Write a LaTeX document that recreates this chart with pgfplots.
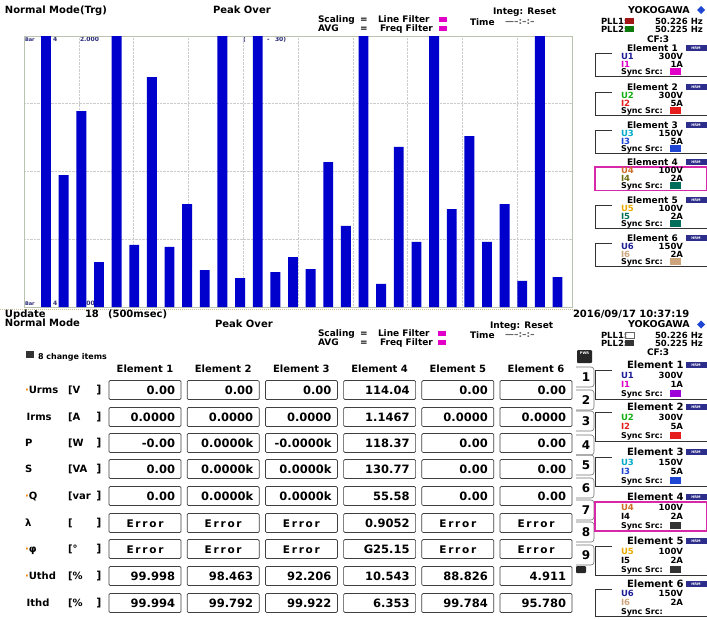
\documentclass[border=0pt]{standalone}
\usepackage{pgfplots}
\pgfplotsset{compat=1.18}
\usepackage{fontspec}
\setmainfont{DejaVu Sans}
\definecolor{barblue}{RGB}{0,0,205}
\definecolor{navy}{RGB}{30,30,150}
\definecolor{mag}{RGB}{225,0,200}
\definecolor{grn}{RGB}{20,175,20}
\definecolor{red1}{RGB}{230,30,30}
\definecolor{cyn}{RGB}{0,170,200}
\definecolor{blu}{RGB}{30,70,210}
\definecolor{brn}{RGB}{205,110,40}
\definecolor{olv}{RGB}{110,110,20}
\definecolor{yel}{RGB}{235,170,0}
\definecolor{tea}{RGB}{0,110,90}
\definecolor{tan1}{RGB}{205,165,125}
\definecolor{selmag}{RGB}{215,40,170}
\definecolor{hrm}{RGB}{45,45,140}
\definecolor{framec}{RGB}{185,195,175}
\definecolor{dotc}{RGB}{205,190,150}
\definecolor{lbl}{RGB}{40,40,120}

\newcommand\fs[1]{\fontsize{#1}{#1}\selectfont\bfseries}
\tikzset{
 t/.style={anchor=base west, inner sep=0pt, outer sep=0pt},
 te/.style={anchor=base east, inner sep=0pt, outer sep=0pt},
 tc/.style={anchor=base, inner sep=0pt, outer sep=0pt},
 bx/.style={draw=black!75, line width=0.7pt, rounded corners=1.2pt},
}
% #1 ty, #2 k, #3 U, #4 I, #5 ucol, #6 icol, #7 boxcol, #8 step, #9 font size
\newcommand\elem[9]{%
 \node[t,font=\fs{#9}] at (627,#1+3.5) {Element #2};
 \fill[hrm] (686,#1-3.2) rectangle (707,#1+3);
 \node[inner sep=0pt,font=\fontsize{3.5}{4}\selectfont\bfseries,text=white] at (696,#1-0.1) {HRM};
 \node[t,font=\fs{8.5},text=#5] at (621,#1+#8+1+3) {U#2};
 \node[te,font=\fs{8.5}] at (683,#1+#8+1+3) {#3};
 \node[t,font=\fs{8.5},text=#6] at (621,#1+2*#8+1+3) {I#2};
 \node[te,font=\fs{8.5}] at (683,#1+2*#8+1+3) {#4};
 \node[t,font=\fs{8}] at (621,#1+3*#8+1+3) {Sync Src:};
 \fill[#7] (670,#1+3*#8+1-3.5) rectangle (681,#1+3*#8+1+3.5);
}
\newcommand\brk[2]{\draw[black!80,line width=0.7pt] (612,#1+5) -- (595,#1+5) -- (595,#1+3*#2+6) -- (707,#1+3*#2+6);}
\newcommand\sel[2]{\draw[selmag,line width=1.2pt] (595,#1+5) rectangle (707,#1+3*#2+6);}
\newcommand\cell[3]{\draw[bx] ({109+78.2*(#1-1)},#2-9.5) rectangle ++(72,19);
 \node[te,font=\fs{11.5}] at ({109+78.2*(#1-1)+66},#2+4.2) {#3};}
\newcommand\ecell[2]{\draw[bx] ({109+78.2*(#1-1)},#2-9.5) rectangle ++(72,19);
 \node[tc,font=\fs{10.5}] at ({109+78.2*(#1-1)+36},#2+4) {E\,r\,r\,o\,r};}
\newcommand\rlab[3]{\node[t,font=\fs{10}] at (25,#1+3.6) {#2};
 \node[t,font=\fs{10}] at (68,#1+3.6) {\lbrack#3};}

\begin{document}
\begin{tikzpicture}
\begin{scope}[x=1pt,y=-1pt]
\useasboundingbox (0,0) rectangle (707,619);
\fill[white] (0,0) rectangle (707,619);
% ---------- top header
\node[t,font=\fs{10}] at (5,13) {Normal Mode(Trg)};
\node[t,font=\fs{10}] at (213,13) {Peak Over};
\node[t,font=\fs{9}] at (318,22) {Scaling};
\node[t,font=\fs{9}] at (360,22) {=};
\node[t,font=\fs{9}] at (318,31) {AVG};
\node[t,font=\fs{9}] at (360,31) {=};
\node[t,font=\fs{9}] at (378,22) {Line Filter};
\node[t,font=\fs{9}] at (380,31) {Freq Filter};
\fill[mag] (439,16.5) rectangle (447,22);
\fill[mag] (439,25.5) rectangle (447,31);
\node[t,font=\fs{9}] at (470,25) {Time};
\node[t,font=\fs{9}] at (493,14) {Integ: Reset};
\node[t,font=\fs{9},text=black!60] at (505,24) {-----:--:--};
\node[t,font=\fs{9.5}] at (628,13) {YOKOGAWA};
\fill[blu] (701,6) -- (705,10) -- (701,14) -- (697,10) -- cycle;
\node[t,font=\fs{8.5}] at (601,24) {PLL1:};
\fill[red1!70!black] (625,18) rectangle (634,24);
\node[t,font=\fs{8.5}] at (655,24) {50.226 Hz};
\node[t,font=\fs{8.5}] at (601,32) {PLL2:};
\fill[grn!70!black] (625,26) rectangle (634,32);
\node[t,font=\fs{8.5}] at (655,32) {50.225 Hz};
\node[t,font=\fs{9}] at (647,42) {CF:3};
% ---------- top element panel
\brk{48}{7.6}\elem{48}{1}{300V}{1A}{navy}{mag}{mag}{7.6}{9}
\brk{87}{7.6}\elem{87}{2}{300V}{5A}{grn}{red1}{red1}{7.6}{9}
\brk{125}{7.6}\elem{125}{3}{150V}{5A}{cyn}{blu}{blu}{7.6}{9}
\sel{162}{7.6}\elem{162}{4}{100V}{2A}{brn}{olv}{tea}{7.6}{9}
\brk{200}{7.6}\elem{200}{5}{100V}{2A}{yel}{tea}{tea}{7.6}{9}
\brk{238}{7.6}\elem{238}{6}{150V}{2A}{navy}{tan1}{tan1}{7.6}{9}
% ---------- chart labels (under bars)
\node[t,font=\fs{5},text=lbl] at (25,41) {Bar};
\node[t,font=\fs{6},text=lbl] at (53,41) {4};
\node[t,font=\fs{6},text=lbl] at (80,41) {2.000};
\node[t,font=\fs{6},text=lbl] at (243,41) {(};
\node[t,font=\fs{6},text=lbl] at (257,41) {1};
\node[t,font=\fs{6},text=lbl] at (267,41) {-};
\node[t,font=\fs{6},text=lbl] at (275,41) {30)};
\node[t,font=\fs{5},text=lbl] at (25,305) {Bar};
\node[t,font=\fs{6},text=lbl] at (53,305) {4};
\node[t,font=\fs{6},text=lbl] at (80,305) {0.000};
% ---------- separator
\draw[dotc,densely dotted,line width=1pt] (0,309.5) -- (575,309.5);
% ---------- lower header
\node[t,font=\fs{10}] at (5,317) {Update};
\node[t,font=\fs{10}] at (85,317) {18};
\node[t,font=\fs{10}] at (108,317) {(500msec)};
\node[t,font=\fs{10}] at (5,326) {Normal Mode};
\node[t,font=\fs{10}] at (215,327) {Peak Over};
\node[t,font=\fs{10}] at (573,317) {2016/09/17 10:37:19};
\node[t,font=\fs{9.5}] at (628,327.5) {YOKOGAWA};
\fill[blu] (701,320.5) -- (705,324.5) -- (701,328.5) -- (697,324.5) -- cycle;
\node[t,font=\fs{9}] at (490,328) {Integ: Reset};
\node[t,font=\fs{9},text=black!60] at (505,337) {-----:--:--};
\node[t,font=\fs{9}] at (318,336) {Scaling};
\node[t,font=\fs{9}] at (360,336) {=};
\node[t,font=\fs{9}] at (318,345) {AVG};
\node[t,font=\fs{9}] at (360,345) {=};
\node[t,font=\fs{9}] at (378,336) {Line Filter};
\node[t,font=\fs{9}] at (380,345) {Freq Filter};
\fill[mag] (438,330.5) rectangle (446,336);
\fill[mag] (438,339.5) rectangle (446,345);
\node[t,font=\fs{9}] at (470,338) {Time};
\node[t,font=\fs{8.5}] at (601,338) {PLL1:};
\draw[black!60] (625,332) rectangle (634,338);
\node[t,font=\fs{8.5}] at (655,338) {50.226 Hz};
\node[t,font=\fs{8.5}] at (601,346) {PLL2:};
\fill[black!80] (625,340) rectangle (634,346);
\node[t,font=\fs{8.5}] at (655,346) {50.225 Hz};
\node[t,font=\fs{9}] at (647,355) {CF:3};
% ---------- table
\fill[black!80] (26,351) rectangle (34,358);
\node[t,font=\fs{8}] at (38,359) {8 change items};
\foreach \k in {1,...,6}{\node[tc,font=\fs{10}] at ({109+78.2*(\k-1)+36},372) {Element \k};}
\rlab{390}{\textcolor{orange}{·}Urms}{V}
\cell{1}{390}{0.00}\cell{2}{390}{0.00}\cell{3}{390}{0.00}\cell{4}{390}{114.04}\cell{5}{390}{0.00}\cell{6}{390}{0.00}
\rlab{417}{\,Irms}{A}
\cell{1}{417}{0.0000}\cell{2}{417}{0.0000}\cell{3}{417}{0.0000}\cell{4}{417}{1.1467}\cell{5}{417}{0.0000}\cell{6}{417}{0.0000}
\rlab{443}{P}{W}
\cell{1}{443}{-0.00}\cell{2}{443}{0.0000k}\cell{3}{443}{-0.0000k}\cell{4}{443}{118.37}\cell{5}{443}{0.00}\cell{6}{443}{0.00}
\rlab{469}{S}{VA}
\cell{1}{469}{0.00}\cell{2}{469}{0.0000k}\cell{3}{469}{0.0000k}\cell{4}{469}{130.77}\cell{5}{469}{0.00}\cell{6}{469}{0.00}
\rlab{496}{\textcolor{orange}{·}Q}{var}
\cell{1}{496}{0.00}\cell{2}{496}{0.0000k}\cell{3}{496}{0.0000k}\cell{4}{496}{55.58}\cell{5}{496}{0.00}\cell{6}{496}{0.00}
\rlab{523}{λ}{ }
\ecell{1}{523}\ecell{2}{523}\ecell{3}{523}\cell{4}{523}{0.9052}\ecell{5}{523}\ecell{6}{523}
\rlab{549}{\textcolor{orange}{·}φ}{°}
\ecell{1}{549}\ecell{2}{549}\ecell{3}{549}\cell{4}{549}{G25.15}\ecell{5}{549}\ecell{6}{549}
\rlab{576}{\textcolor{orange}{·}Uthd}{\%}
\cell{1}{576}{99.998}\cell{2}{576}{98.463}\cell{3}{576}{92.206}\cell{4}{576}{10.543}\cell{5}{576}{88.826}\cell{6}{576}{4.911}
\rlab{603}{\,Ithd}{\%}
\cell{1}{603}{99.994}\cell{2}{603}{99.792}\cell{3}{603}{99.922}\cell{4}{603}{6.353}\cell{5}{603}{99.784}\cell{6}{603}{95.780}
\foreach \yy in {390,417,443,469,496,523,549,576,603}{
 \node[anchor=center,inner sep=0.5pt,text=black,font=\fs{11}] at (99,\yy+0.3) {\rbrack};}
% ---------- tabs
\fill[black!85,rounded corners=1pt] (577,350) rectangle (592,363);
\node[inner sep=0pt,font=\fontsize{3.5}{4}\selectfont\bfseries,text=white] at (584.5,353.5) {PWR};
\foreach \y/\d in {377/1,400/2,421/3,445/4,465/5,488/6,510/7,532/8,555/9}{
 \draw[black!55,line width=0.6pt,rounded corners=3pt] (576,\y-10) -- (594,\y-10) -- (594,\y+10) -- (576,\y+10);
 \node[font=\fs{12},inner sep=0pt] at (586,\y) {\d};}
\fill[black!85,rounded corners=1pt] (576,566) rectangle (586,573);
% ---------- lower element panel
\brk{365}{9.3}\elem{365}{1}{300V}{1A}{navy}{mag}{mag!70!blue}{9.3}{10}
\brk{407}{9.3}\elem{407}{2}{300V}{5A}{grn}{red1}{red1}{9.3}{10}
\brk{452}{9.3}\elem{452}{3}{150V}{5A}{cyn}{blu}{blu}{9.3}{10}
\sel{497}{9.3}\elem{497}{4}{100V}{2A}{brn}{black}{black!80}{9.3}{10}
\brk{541}{9.3}\elem{541}{5}{100V}{2A}{yel}{black}{black!80}{9.3}{10}
\brk{584}{8.9}\elem{584}{6}{150V}{2A}{navy}{tan1}{white}{8.9}{10}
\end{scope}
\begin{axis}[at={(24pt,-307pt)}, anchor=south west, scale only axis,
 width=548pt, height=271pt, xmin=-0.25, xmax=30.82, ymin=0, ymax=2,
 xtick={2.857,5.964,9.071,12.178,15.285,18.392,21.499,24.606,27.713},
 ytick={0.5,1,1.5}, xticklabels={}, yticklabels={}, major tick length=0pt,
 grid=major, grid style={densely dotted, black!20, line width=0.6pt},
 axis line style={framec, line width=0.8pt}]
\addplot[ybar, bar width=0.56, fill=barblue, draw=none] coordinates {
(1,2.2) (2,0.974) (3,1.446) (4,0.332) (5,2.2) (6,0.458) (7,1.697) (8,0.443)
(9,0.760) (10,0.273) (11,2.2) (12,0.214) (13,2.2) (14,0.258) (15,0.369)
(16,0.280) (17,1.070) (18,0.598) (19,2.2) (20,0.170) (21,1.181) (22,0.480)
(23,2.2) (24,0.723) (25,1.262) (26,0.480) (27,0.760) (28,0.192) (29,2.2) (30,0.221)};
\end{axis}
\end{tikzpicture}
\end{document}
